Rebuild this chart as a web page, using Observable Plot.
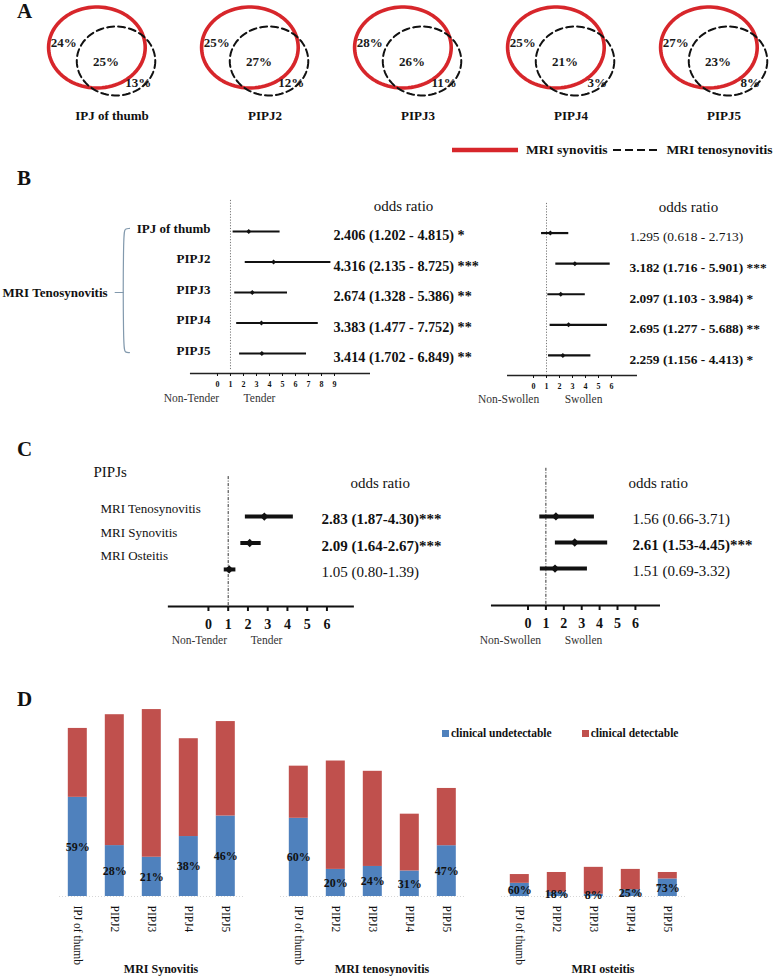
<!DOCTYPE html>
<html>
<head>
<meta charset="utf-8">
<script src="https://cdn.jsdelivr.net/npm/d3@7"></script>
<script src="https://cdn.jsdelivr.net/npm/@observablehq/plot@0.6"></script>
<style>
  body { margin: 0; background: #fff; }
  #root { position: relative; width: 778px; height: 980px; overflow: hidden; background: #fff;
          font-family: "Liberation Serif", "Times New Roman", serif; color: #111; }
  .pos { position: absolute; }
  .letter { position: absolute; font: bold 21px "Liberation Serif", serif; line-height: 21px; color: #111; }
  .sw { display: inline-block; width: 7px; height: 7px; }
</style>
</head>
<body>
<div id="root">
  <div class="letter" style="left:17px;top:1px">A</div>
  <div class="letter" style="left:17px;top:168px">B</div>
  <div class="letter" style="left:17px;top:439px">C</div>
  <div class="letter" style="left:17px;top:689px">D</div>

  <div class="pos" style="left:452px;top:142px;display:flex;align-items:center;font:bold 13.5px 'Liberation Serif',serif;white-space:nowrap">
    <svg width="66" height="8"><line x1="0" x2="66" y1="4" y2="4" stroke="#d7262b" stroke-width="4.5"/></svg>
    <span style="margin:0 6px 0 8px">MRI synovitis</span>
    <svg width="48" height="8"><line x1="0" x2="48" y1="4" y2="4" stroke="#111" stroke-width="2.2" stroke-dasharray="8,4"/></svg>
    <span style="margin-left:5px">MRI tenosynovitis</span>
  </div>

  <div class="pos" style="left:442px;top:727px;display:flex;align-items:center;font:bold 11.5px 'Liberation Serif',serif;white-space:nowrap">
    <span class="sw" style="background:#4f81bd;margin-right:2px"></span>clinical undetectable
    <span class="sw" style="background:#c0504d;margin:0 2px 0 30px"></span>clinical detectable
  </div>
</div>

<script>
// ---------------- DATA ----------------
const joints = ["IPJ of thumb", "PIPJ2", "PIPJ3", "PIPJ4", "PIPJ5"];

// Panel A – Venn percentages
const vennSynOnly  = [24, 25, 28, 25, 27];
const vennBoth     = [25, 27, 26, 21, 23];
const vennTenoOnly = [13, 12, 11, 3, 8];

// Panel B – MRI tenosynovitis odds ratios per joint
const bTenderOR  = [2.406, 4.316, 2.674, 3.383, 3.414];
const bTenderLo  = [1.202, 2.135, 1.328, 1.477, 1.702];
const bTenderHi  = [4.815, 8.725, 5.386, 7.752, 6.849];
const bTenderSig = ["*", "***", "**", "**", "**"];
const bSwollenOR  = [1.295, 3.182, 2.097, 2.695, 2.259];
const bSwollenLo  = [0.618, 1.716, 1.103, 1.277, 1.156];
const bSwollenHi  = [2.713, 5.901, 3.984, 5.688, 4.413];
const bSwollenSig = ["", "***", "*", "**", "*"];
const bTicksTender  = [0, 1, 2, 3, 4, 5, 6, 7, 8, 9];
const bTicksSwollen = [0, 1, 2, 3, 4, 5, 6];

// Panel C – PIPJs odds ratios
const cFindings   = ["MRI Tenosynovitis", "MRI Synovitis", "MRI Osteitis"];
const cTenderOR   = [2.83, 2.09, 1.05];
const cTenderLo   = [1.87, 1.64, 0.80];
const cTenderHi   = [4.30, 2.67, 1.39];
const cTenderSig  = ["***", "***", ""];
const cSwollenOR  = [1.56, 2.61, 1.51];
const cSwollenLo  = [0.66, 1.53, 0.69];
const cSwollenHi  = [3.71, 4.45, 3.32];
const cSwollenSig = ["", "***", ""];
const cTicks = [0, 1, 2, 3, 4, 5, 6];

// Panel D – % of joints with MRI finding, and share clinically undetectable
const dGroups  = ["MRI Synovitis", "MRI tenosynovitis", "MRI osteitis"];
const dStatus  = ["clinical undetectable", "clinical detectable"];
const dSynTotal  = [49, 53, 54.5, 46, 51];
const dTenoTotal = [38, 39.5, 36.5, 24, 31.5];
const dOstTotal  = [6.4, 7, 8.5, 7.9, 7];
const dSynUndetPct  = [59, 28, 21, 38, 46];
const dTenoUndetPct = [60, 20, 24, 31, 47];
const dOstUndetPct  = [60, 18, 8, 25, 73];

// ---------------- HELPERS ----------------
const FONT = '"Liberation Serif", "Times New Roman", serif';
const RED = "#d7262b";
const root = document.getElementById("root");
function place(svg, left, top) {
  svg.style.position = "absolute";
  svg.style.left = left + "px";
  svg.style.top = top + "px";
  root.appendChild(svg);
}
const baseStyle = {fontFamily: FONT, overflow: "visible", background: "transparent", color: "#111", maxWidth: "none"};

// ---------------- PANEL A ----------------
const venn = joints.map((joint, i) => ({joint, synOnly: vennSynOnly[i], both: vennBoth[i], tenoOnly: vennTenoOnly[i]}));
function ring(cx, cy, rx, ry) {
  return d3.range(0, 361, 4).map(t => [cx + rx * Math.cos(t * Math.PI / 180), cy + ry * Math.sin(t * Math.PI / 180)]);
}
const redRing  = joints.flatMap(joint => ring(-15, 47, 48, 40.5).map(([x, y]) => ({joint, x, y})));
const tenoRing = joints.flatMap(joint => ring(4, 60.5, 39, 34.5).map(([x, y]) => ({joint, x, y})));
const vennText = {fx: "joint", fontWeight: "bold", fontSize: 13, fill: "#1a1a1a"};

place(Plot.plot({
  width: 778, height: 135,
  marginTop: 0, marginBottom: 35, marginLeft: 72.75, marginRight: 16.75,
  fx: {domain: joints, paddingInner: 0.5, paddingOuter: 0, axis: null},
  x: {domain: [-38.25, 38.25], axis: null},
  y: {domain: [0, 100], reverse: true, axis: null},
  style: baseStyle,
  marks: [
    Plot.line(redRing, {fx: "joint", x: "x", y: "y", stroke: RED, strokeWidth: 3.6}),
    Plot.line(tenoRing, {fx: "joint", x: "x", y: "y", stroke: "#111", strokeWidth: 2, strokeDasharray: "7,4"}),
    Plot.text(venn, {...vennText, x: -48, y: 42, text: d => d.synOnly + "%"}),
    Plot.text(venn, {...vennText, x: -6, y: 61, text: d => d.both + "%"}),
    Plot.text(venn, {...vennText, x: 26, y: 82, text: d => d.tenoOnly + "%"}),
    Plot.text(venn, {fx: "joint", text: "joint", frameAnchor: "bottom", dy: 19, fontWeight: "bold", fontSize: 13})
  ]
}), 0, 0);

// ---------------- PANEL B ----------------
const fmt3 = v => v.toFixed(3);
const bLeft = joints.map((joint, i) => ({joint, i, or: bTenderOR[i], lo: bTenderLo[i], hi: bTenderHi[i], sig: bTenderSig[i],
  label: `${fmt3(bTenderOR[i])} (${fmt3(bTenderLo[i])} - ${fmt3(bTenderHi[i])})` + (bTenderSig[i] ? " " + bTenderSig[i] : "")}));
const bRight = joints.map((joint, i) => ({joint, i, or: bSwollenOR[i], lo: bSwollenLo[i], hi: bSwollenHi[i], sig: bSwollenSig[i],
  label: `${fmt3(bSwollenOR[i])} (${fmt3(bSwollenLo[i])} - ${fmt3(bSwollenHi[i])})` + (bSwollenSig[i] ? " " + bSwollenSig[i] : "")}));
const bracket = [
  {x: -6.77, y: -0.1}, {x: -7.1, y: -0.09}, {x: -7.25, y: 0.0},
  {x: -7.25, y: 3.87}, {x: -7.1, y: 3.96}, {x: -6.77, y: 3.97}
];
const bracketMid = [{x: -7.25, y: 2}, {x: -7.87, y: 2}];

place(Plot.plot({
  width: 490, height: 220, marginTop: 21, marginBottom: 37, marginLeft: 0, marginRight: 0,
  x: {domain: [-16.69, 21]},
  y: {domain: [-0.656, 4.656], reverse: true, axis: null},
  style: baseStyle,
  marks: [
    Plot.ruleX([1], {y1: -1.02, y2: 4.56, stroke: "#777", strokeWidth: 1, strokeDasharray: "1.2,1.6"}),
    Plot.ruleY([4.656], {x1: -2.08, x2: 11.77, stroke: "#222", strokeWidth: 1.4}),
    Plot.axisX({ticks: bTicksTender, tickSize: 3, tickPadding: 5, fontSize: 8, fontWeight: "bold", label: null}),
    Plot.line(bracket, {x: "x", y: "y", stroke: "#8299ad", strokeWidth: 1.2, curve: "basis"}),
    Plot.line(bracketMid, {x: "x", y: "y", stroke: "#8299ad", strokeWidth: 1.2}),
    Plot.text(["MRI Tenosynovitis"], {x: -16.54, y: 2, text: d => d, textAnchor: "start", fontWeight: "bold", fontSize: 13}),
    Plot.text(bLeft, {x: -0.54, y: "i", dy: -3, text: "joint", textAnchor: "end", fontWeight: "bold", fontSize: 13}),
    Plot.ruleY(bLeft, {y: "i", x1: "lo", x2: "hi", stroke: "#111", strokeWidth: 2.2}),
    Plot.dot(bLeft, {x: "or", y: "i", symbol: "square", r: 2, rotate: 45, fill: "#111", stroke: null}),
    Plot.text(["odds ratio"], {x: 14.31, y: -0.82, text: d => d, fontSize: 15}),
    Plot.text(bLeft, {x: 8.92, y: "i", dy: 4, text: "label", textAnchor: "start", fontWeight: "bold", fontSize: 14.2}),
    Plot.text(["Non-Tender"], {x: -2.0, frameAnchor: "bottom", dy: 28, text: d => d, fontSize: 11.5, fill: "#333"}),
    Plot.text(["Tender"], {x: 3.23, frameAnchor: "bottom", dy: 28, text: d => d, fontSize: 11.5, fill: "#333"})
  ]
}), 0, 190);

place(Plot.plot({
  width: 288, height: 220, marginTop: 22.5, marginBottom: 35, marginLeft: 0, marginRight: 0,
  x: {domain: [-3.31, 18.85]},
  y: {domain: [-0.656, 4.656], reverse: true, axis: null},
  style: baseStyle,
  marks: [
    Plot.ruleX([1], {y1: -0.97, y2: 4.62, stroke: "#777", strokeWidth: 1, strokeDasharray: "1.2,1.6"}),
    Plot.ruleY([4.656], {x1: -2.0, x2: 8.0, stroke: "#222", strokeWidth: 1.4}),
    Plot.axisX({ticks: bTicksSwollen, tickSize: 3, tickPadding: 5, fontSize: 8, fontWeight: "bold", label: null}),
    Plot.ruleY(bRight, {y: "i", x1: "lo", x2: "hi", stroke: "#111", strokeWidth: 2.2}),
    Plot.dot(bRight, {x: "or", y: "i", symbol: "square", r: 2, rotate: 45, fill: "#111", stroke: null}),
    Plot.text(["odds ratio"], {x: 11.92, y: -0.84, text: d => d, fontSize: 15}),
    Plot.text(bRight, {filter: d => d.sig, x: 7.38, y: "i", dy: 4, text: "label", textAnchor: "start", fontWeight: "bold", fontSize: 13.4}),
    Plot.text(bRight, {filter: d => !d.sig, x: 7.38, y: "i", dy: 4, text: "label", textAnchor: "start", fontSize: 13.4}),
    Plot.text(["Non-Swollen"], {x: -1.92, frameAnchor: "bottom", dy: 27, text: d => d, fontSize: 11.5, fill: "#333"}),
    Plot.text(["Swollen"], {x: 3.85, frameAnchor: "bottom", dy: 27, text: d => d, fontSize: 11.5, fill: "#333"})
  ]
}), 490, 190);

// ---------------- PANEL C ----------------
const fmt2 = v => v.toFixed(2);
const cLabelRow = [-0.3, 0.6, 1.5];
const cLeft = cFindings.map((f, i) => ({f, i, or: cTenderOR[i], lo: cTenderLo[i], hi: cTenderHi[i], sig: cTenderSig[i],
  label: `${fmt2(cTenderOR[i])} (${fmt2(cTenderLo[i])}-${fmt2(cTenderHi[i])})${cTenderSig[i]}`}));
const cRight = cFindings.map((f, i) => ({f, i, or: cSwollenOR[i], lo: cSwollenLo[i], hi: cSwollenHi[i], sig: cSwollenSig[i],
  label: `${fmt2(cSwollenOR[i])} (${fmt2(cSwollenLo[i])}-${fmt2(cSwollenHi[i])})${cSwollenSig[i]}`}));

place(Plot.plot({
  width: 470, height: 200, marginTop: 19, marginBottom: 54, marginLeft: 0, marginRight: 0,
  x: {domain: [-10.53, 13.27]},
  y: {domain: [-1.4, 3.4], reverse: true, axis: null},
  style: baseStyle,
  marks: [
    Plot.ruleX([1], {y1: -1.51, y2: 3.4, stroke: "#333", strokeWidth: 1, strokeDasharray: "3,1.5,1,1.5"}),
    Plot.ruleY([3.4], {x1: -2.03, x2: 7.39, stroke: "#111", strokeWidth: 2}),
    Plot.axisX({ticks: cTicks, tickSize: 5, tickPadding: 8, fontSize: 14, fontWeight: "bold", strokeWidth: 2, label: null}),
    Plot.text(["PIPJs"], {x: -5.82, y: -1.66, text: d => d, textAnchor: "start", fontSize: 15}),
    Plot.text(cLeft, {x: -5.47, y: (d, i) => cLabelRow[i], text: "f", textAnchor: "start", fontSize: 13}),
    Plot.ruleY(cLeft, {y: "i", x1: "lo", x2: "hi", stroke: "#111", strokeWidth: 4}),
    Plot.dot(cLeft, {x: "or", y: "i", symbol: "square", r: 3.3, rotate: 45, fill: "#111", stroke: null}),
    Plot.text(["odds ratio"], {x: 7.19, y: -1.25, text: d => d, textAnchor: "start", fontSize: 15}),
    Plot.text(cLeft, {filter: d => d.sig, x: 5.72, y: "i", dy: 3, text: "label", textAnchor: "start", fontWeight: "bold", fontSize: 15}),
    Plot.text(cLeft, {filter: d => !d.sig, x: 5.72, y: "i", dy: 3, text: "label", textAnchor: "start", fontSize: 15}),
    Plot.text(["Non-Tender"], {x: -0.46, frameAnchor: "bottom", dy: 37, text: d => d, fontSize: 11.5, fill: "#333"}),
    Plot.text(["Tender"], {x: 2.94, frameAnchor: "bottom", dy: 37, text: d => d, fontSize: 11.5, fill: "#333"})
  ]
}), 0, 460);

place(Plot.plot({
  width: 308, height: 200, marginTop: 19, marginBottom: 55, marginLeft: 0, marginRight: 0,
  x: {domain: [-3.21, 13.99]},
  y: {domain: [-1.42, 3.42], reverse: true, axis: null},
  style: baseStyle,
  marks: [
    Plot.ruleX([1], {y1: -1.85, y2: 3.42, stroke: "#333", strokeWidth: 1, strokeDasharray: "3,1.5,1,1.5"}),
    Plot.ruleY([3.42], {x1: -2.04, x2: 7.4, stroke: "#111", strokeWidth: 2}),
    Plot.axisX({ticks: cTicks, tickSize: 5, tickPadding: 8, fontSize: 14, fontWeight: "bold", strokeWidth: 2, label: null}),
    Plot.ruleY(cRight, {y: "i", x1: "lo", x2: "hi", stroke: "#111", strokeWidth: 4}),
    Plot.dot(cRight, {x: "or", y: "i", symbol: "square", r: 3.3, rotate: 45, fill: "#111", stroke: null}),
    Plot.text(["odds ratio"], {x: 5.61, y: -1.27, text: d => d, textAnchor: "start", fontSize: 15}),
    Plot.text(cRight, {filter: d => d.sig, x: 5.84, y: "i", dy: 3, text: "label", textAnchor: "start", fontWeight: "bold", fontSize: 15}),
    Plot.text(cRight, {filter: d => !d.sig, x: 5.84, y: "i", dy: 3, text: "label", textAnchor: "start", fontSize: 15}),
    Plot.text(["Non-Swollen"], {x: -0.98, frameAnchor: "bottom", dy: 38, text: d => d, fontSize: 11.5, fill: "#333"}),
    Plot.text(["Swollen"], {x: 3.1, frameAnchor: "bottom", dy: 38, text: d => d, fontSize: 11.5, fill: "#333"})
  ]
}), 470, 460);

// ---------------- PANEL D ----------------
const dTotals = [dSynTotal, dTenoTotal, dOstTotal];
const dPcts = [dSynUndetPct, dTenoUndetPct, dOstUndetPct];
const dBars = dGroups.flatMap((group, g) => joints.map((joint, j) => ({
  group, joint, total: dTotals[g][j], pct: dPcts[g][j], undet: dTotals[g][j] * dPcts[g][j] / 100
})));
const dStack = dBars.flatMap(d => [
  {group: d.group, joint: d.joint, status: dStatus[0], value: d.undet},
  {group: d.group, joint: d.joint, status: dStatus[1], value: d.total - d.undet}
]);

place(Plot.plot({
  width: 778, height: 300, marginTop: 10.2, marginBottom: 84, marginLeft: 40.2, marginRight: 73.3,
  fx: {domain: dGroups, paddingInner: 0.165, paddingOuter: 0.0825, axis: null},
  x: {domain: joints, paddingInner: 0.486, paddingOuter: 0.243, tickRotate: 90, tickSize: 0, tickPadding: 9, label: null},
  y: {domain: [0, 60], axis: null},
  color: {domain: dStatus, range: ["#4f81bd", "#c0504d"]},
  style: {...baseStyle, fontSize: "11.5px"},
  marks: [
    Plot.ruleY([0], {stroke: "#d6d6d6", strokeDasharray: "1,2"}),
    Plot.barY(dStack, {fx: "group", x: "joint", y: "value", fill: "status", order: dStatus}),
    Plot.text(dBars, {fx: "group", x: "joint", y: d => d.undet / 2, text: d => d.pct + "%", fontWeight: "bold", fontSize: 12, fill: "#111"}),
    Plot.text(dGroups, {fx: d => d, text: d => d, frameAnchor: "bottom", dy: 76, dx: 9, fontWeight: "bold", fontSize: 12})
  ]
}), 0, 680);
</script>
</body>
</html>
